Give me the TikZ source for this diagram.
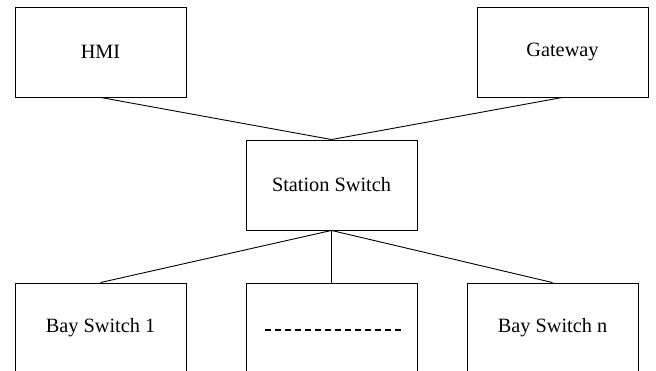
\documentclass[tikz,border=0pt]{standalone}
\usepackage{fontspec}
\setmainfont{Liberation Serif}
\usepackage{tikz}

\begin{document}
\begin{tikzpicture}[x=1pt,y=-1pt,line width=0.9pt]

        \useasboundingbox (0,0) rectangle (656,371);
        \clip (0,0) rectangle (656,371);

        \begin{scope}[every node/.style={rectangle,draw,line width=0.9pt,
            minimum width=171pt,minimum height=90pt,
            font=\fontsize{20.3}{24}\selectfont}]
          \node (hmi)  at (100.5,52)  {HMI};
          \node (gw)   at (562.5,52)  {Gateway};
          \node (sw)   at (331.5,185) {Station Switch};
          \node (bay1) at (100.5,328) {Bay Switch 1};
          \node (mid)  at (331.5,328) {};
          \node (bayn) at (552.5,328) {Bay Switch n};
        \end{scope}

        % dots in the middle box
        \draw[line width=2.3pt,dash pattern=on 6pt off 4pt]
          ([xshift=-67pt,yshift=-2pt]mid.center) -- ([xshift=69pt,yshift=-2pt]mid.center);

        \begin{scope}[every edge/.style={draw}]
          \path (hmi.south) edge (sw.north);
          \path (gw.south)  edge (sw.north);
          \path (sw.south)  edge (bay1.north);
          \path (sw.south)  edge (mid.north);
          \path (sw.south)  edge (bayn.north);
        \end{scope}

      \end{tikzpicture}
\end{document}
